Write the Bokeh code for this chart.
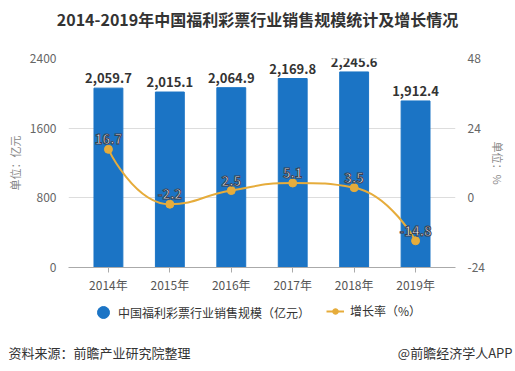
import numpy as np
from bokeh.plotting import figure
from bokeh.layouts import column
from bokeh.models import Range1d, LinearAxis, FixedTicker, Label, Legend, LegendItem
from bokeh.core.properties import value
from bokeh.embed import file_html
from bokeh.resources import INLINE

# ---- data ----
years = ["2014年", "2015年", "2016年", "2017年", "2018年", "2019年"]
sales = [2059.7, 2015.1, 2064.9, 2169.8, 2245.6, 1912.4]
growth = [16.7, -2.2, 2.5, 5.1, 3.5, -14.8]
left_ticks = [0, 800, 1600, 2400]
right_ticks = [-24, 0, 24, 48]
title_text = "2014-2019年中国福利彩票行业销售规模统计及增长情况"
bar_name = "中国福利彩票行业销售规模（亿元）"
line_name = "增长率（%）"
left_title = "单位：亿元"
right_title = "单位：%"
source_text = "资料来源：前瞻产业研究院整理"
brand_text = "@前瞻经济学人APP"

# ---- style ----
FONT = "Noto Sans CJK SC"
BLUE = "#1b74c5"
ORANGE = "#e6ac3b"
W = 513
H_TOP, H_MAIN, H_FOOT = 50, 245, 74
ML, MR, MT, MB = 68, 58, 8, 25
FW, FH = W - ML - MR, H_MAIN - MT - MB
PAD = 0.15


def blank(h):
    f = figure(width=W, height=h, output_backend="svg", toolbar_location=None,
               x_range=Range1d(0, W), y_range=Range1d(0, h),
               x_axis_type=None, y_axis_type=None, min_border=0, frame_align=False)
    f.outline_line_color = None
    f.xgrid.visible = False
    f.ygrid.visible = False
    return f


def lab(f, text, x, y, size, color, align="left", bold=False):
    f.add_layout(Label(x=x, y=y, text=text, text_font=FONT, text_font_size=size,
                       text_color=color, text_align=align, text_baseline="middle",
                       text_font_style="bold" if bold else "normal"))


# ---- title ----
top = blank(H_TOP)
lab(top, title_text, 257, H_TOP - 18, "16px", "#333333", align="center", bold=True)

# ---- main chart ----
xs = list(range(len(years)))
x0, x1 = -0.5 - PAD, len(years) - 0.5 + PAD

p = figure(width=W, height=H_MAIN, output_backend="svg", toolbar_location=None,
           x_range=Range1d(x0, x1), y_range=Range1d(left_ticks[0], left_ticks[-1]),
           min_border_left=ML, min_border_right=MR, min_border_top=MT, min_border_bottom=MB,
           frame_align=False)
p.outline_line_color = None
p.extra_y_ranges = {"rate": Range1d(right_ticks[0], right_ticks[-1])}

p.vbar(x=xs, top=sales, width=0.47, color=BLUE)

# echarts-style smooth curve through the data points
sx = FW / (x1 - x0)
sy = FH / (right_ticks[-1] - right_ticks[0])
PX = [v * sx for v in xs]
PY = [v * sy for v in growth]
n = len(PX)
seg = {k: [] for k in ("x0", "y0", "x1", "y1", "cx0", "cy0", "cx1", "cy1")}
cpx0, cpy0 = PX[0], PY[0]
smooth = 0.5
for i in range(1, n):
    x, y = PX[i], PY[i]
    px, py = PX[i - 1], PY[i - 1]
    if i == n - 1:
        cpx1, cpy1 = x, y
        ncx0, ncy0 = x, y
    else:
        nx, ny = PX[i + 1], PY[i + 1]
        vx, vy = nx - px, ny - py
        lp = np.hypot(x - px, y - py)
        ln = np.hypot(nx - x, ny - y)
        r = ln / (ln + lp)
        ncx0 = x + vx * smooth * r
        ncy0 = y + vy * smooth * r
        ncx0 = max(min(ncx0, max(nx, x)), min(nx, x))
        ncy0 = max(min(ncy0, max(ny, y)), min(ny, y))
        vx, vy = ncx0 - x, ncy0 - y
        cpx1 = x - vx * lp / ln
        cpy1 = y - vy * lp / ln
        cpx1 = max(min(cpx1, max(px, x)), min(px, x))
        cpy1 = max(min(cpy1, max(py, y)), min(py, y))
        vx, vy = x - cpx1, y - cpy1
        ncx0 = x + vx * ln / lp
        ncy0 = y + vy * ln / lp
    seg["x0"].append(px / sx); seg["y0"].append(py / sy)
    seg["x1"].append(x / sx); seg["y1"].append(y / sy)
    seg["cx0"].append(cpx0 / sx); seg["cy0"].append(cpy0 / sy)
    seg["cx1"].append(cpx1 / sx); seg["cy1"].append(cpy1 / sy)
    cpx0, cpy0 = ncx0, ncy0

p.bezier(line_color=ORANGE, line_width=2, y_range_name="rate", **seg)
p.scatter(xs, growth, size=8, color=ORANGE, y_range_name="rate")

p.text(x=xs, y=sales, text=[f"{v:,.1f}" for v in sales], text_align="center",
       text_baseline="bottom", y_offset=-5, text_font=value(FONT), text_font_size="13px",
       text_font_style="bold", text_color="#333333")
p.text(x=xs, y=growth, text=[f"{v:.1f}" for v in growth], text_align="center",
       text_baseline="bottom", y_offset=-5, text_font=value(FONT), text_font_size="13px",
       text_font_style="bold", text_color="white", text_outline_color="#3a4050",
       y_range_name="rate")

xa = p.xaxis[0]
xa.ticker = FixedTicker(ticks=xs)
xa.major_label_overrides = {i: y for i, y in zip(xs, years)}
xa.axis_line_color = "#aaaaaa"
xa.major_tick_line_color = "#aaaaaa"
xa.major_tick_in = 0
xa.major_tick_out = 5
xa.minor_tick_line_color = None
xa.major_label_standoff = 3
xa.major_label_text_font = FONT
xa.major_label_text_font_size = "12px"
xa.major_label_text_color = "#555555"

ya = p.yaxis[0]
ya.ticker = FixedTicker(ticks=left_ticks)
ya.axis_label = left_title
ra = LinearAxis(y_range_name="rate", ticker=FixedTicker(ticks=right_ticks), axis_label=right_title)
ra.major_label_overrides = {t: str(t) for t in right_ticks}
p.add_layout(ra, "right")
for a in (ya, ra):
    a.axis_line_color = None
    a.major_tick_line_color = None
    a.minor_tick_line_color = None
    a.major_label_standoff = 6
    a.major_label_text_font = FONT
    a.major_label_text_font_size = "12px"
    a.major_label_text_color = "#666666"
    a.axis_label_text_font = FONT
    a.axis_label_text_font_size = "11px"
    a.axis_label_text_font_style = "normal"
    a.axis_label_text_color = "#888888"
ya.axis_label_standoff = 4
ra.axis_label_standoff = 2

p.xgrid.visible = False
p.ygrid.ticker = FixedTicker(ticks=left_ticks)
p.ygrid.grid_line_color = "#dddddd"

# ---- footer: legend + source ----
foot = blank(H_FOOT)
rb = foot.scatter([np.nan], [np.nan], marker="circle", color=BLUE)
rl = foot.line([np.nan], [np.nan], line_color=ORANGE, line_width=2)
rp = foot.scatter([np.nan], [np.nan], marker="circle", color=ORANGE)
common = dict(orientation="horizontal", padding=0, margin=0, border_line_color=None,
              background_fill_alpha=0, label_text_font=FONT, label_text_font_size="12px",
              label_text_color="#333333")
lg1 = Legend(items=[LegendItem(label=bar_name, renderers=[rb])], location=(88, 42),
             glyph_width=30, glyph_height=30, label_standoff=0, **common)
lg2 = Legend(items=[LegendItem(label=line_name, renderers=[rl, rp])], location=(326, 50),
             glyph_width=18, glyph_height=14, label_standoff=6, **common)
foot.add_layout(lg1)
foot.add_layout(lg2)
lab(foot, source_text, 8, H_FOOT - 57, "13px", "#333333")
lab(foot, brand_text, 512, H_FOOT - 57, "13px", "#333333", align="right")

layout = column(top, p, foot, spacing=0)
open("out.html", "w").write(file_html(layout, INLINE))
